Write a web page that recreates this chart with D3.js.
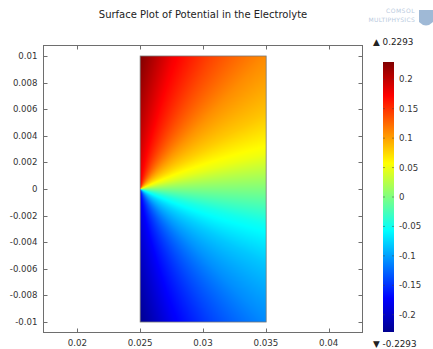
<!DOCTYPE html>
<html>
<head>
<meta charset="utf-8">
<script src="https://cdn.jsdelivr.net/npm/d3@7/dist/d3.min.js"></script>
<style>
  body { margin: 0; background: #ffffff; }
  svg { display: block; font-family: "DejaVu Sans", sans-serif; }
</style>
</head>
<body>
<div id="chart"></div>
<script>
// ---- data ----
const xTicks = [0.02, 0.025, 0.03, 0.035, 0.04];
const yTicks = [0.01, 0.008, 0.006, 0.004, 0.002, 0, -0.002, -0.004, -0.006, -0.008, -0.01];
const cbTicks = [0.2, 0.15, 0.1, 0.05, 0, -0.05, -0.1, -0.15, -0.2];
const vMin = -0.2293, vMax = 0.2293;

// potential sampled around the corner point (0.025, 0): angle (deg) x radius (m)
const angles = [-90, -75, -60, -45, -30, -15, 0, 15, 30, 45, 60, 75, 90];
const radii = [0, 0.005, 0.01, 0.015];
const potential = [
  [-0.178, -0.205, -0.229, -0.235],
  [-0.158, -0.168, -0.175, -0.178],
  [-0.130, -0.136, -0.140, -0.142],
  [-0.100, -0.105, -0.108, -0.110],
  [-0.072, -0.078, -0.083, -0.086],
  [-0.040, -0.046, -0.051, -0.053],
  [0, 0, 0, 0],
  [0.040, 0.046, 0.051, 0.053],
  [0.072, 0.078, 0.083, 0.086],
  [0.100, 0.105, 0.108, 0.110],
  [0.130, 0.136, 0.140, 0.142],
  [0.158, 0.168, 0.175, 0.178],
  [0.178, 0.205, 0.229, 0.235],
];
const domainX = [0.025, 0.035], domainY = [-0.01, 0.01];

// ---- layout ----
const W = 433, H = 349;
const frame = { left: 43.5, right: 362.5, top: 45.5, bottom: 332.5 };
const cb = { x: 383, y: 62, w: 11, h: 270 };
const tickLen = 4;
const axisColor = "#6e6e6e";
const textColor = "#333333";

// jet-like colour table
const jetStops = [0, 0.125, 0.375, 0.625, 0.875, 1];
const jetColors = ["#00008f", "#0000ff", "#00ffff", "#ffff00", "#ff0000", "#800000"];

const x = d3.scaleLinear().domain([0.01731, 0.04269]).range([frame.left, frame.right]);
const y = d3.scaleLinear().domain([-0.01079, 0.01079]).range([frame.bottom, frame.top]);
const color = d3.scaleLinear()
  .domain(jetStops.map(t => vMin + t * (vMax - vMin)))
  .range(jetColors)
  .clamp(true);

const svg = d3.select("#chart").append("svg").attr("width", W).attr("height", H);

// title
svg.append("text")
  .attr("x", (frame.left + frame.right) / 2).attr("y", 18)
  .attr("text-anchor", "middle")
  .attr("font-size", 10).attr("fill", "#222")
  .text("Surface Plot of Potential in the Electrolyte");

// faint logo
const logo = svg.append("g").attr("fill", "#b9cade");
logo.append("text").attr("x", 415).attr("y", 13).attr("text-anchor", "end")
  .attr("font-size", 6).attr("letter-spacing", 0.5).text("COMSOL");
logo.append("text").attr("x", 415).attr("y", 22).attr("text-anchor", "end")
  .attr("font-size", 6).attr("letter-spacing", 0.3).text("MULTIPHYSICS");
logo.append("path")
  .attr("d", "M419,10 L433,10 L433,22 Q426,29 419,22 Z")
  .attr("fill", "#9fb9d6");

// ---- surface image ----
function drawSurface() {
  const px0 = x(domainX[0]), px1 = x(domainX[1]);
  const py0 = y(domainY[1]), py1 = y(domainY[0]);
  const cw = Math.round(px1 - px0), ch = Math.round(py1 - py0);

  // one angle scale per radius column
  const angleScales = radii.map((r, k) =>
    d3.scaleLinear().domain(angles).range(potential.map(row => row[k])).clamp(true));

  const canvas = document.createElement("canvas");
  canvas.width = cw; canvas.height = ch;
  const ctx = canvas.getContext("2d");
  const img = ctx.createImageData(cw, ch);

  for (let j = 0; j < ch; j++) {
    for (let i = 0; i < cw; i++) {
      const dx = x.invert(px0 + i + 0.5) - domainX[0];
      const dy = y.invert(py0 + j + 0.5);
      const r = Math.sqrt(dx * dx + dy * dy);
      const a = Math.atan2(dy, Math.max(dx, 0)) * 180 / Math.PI;
      const vals = angleScales.map(s => s(a));
      const v = d3.scaleLinear().domain(radii).range(vals).clamp(true)(r);
      const c = d3.rgb(color(v));
      const idx = (j * cw + i) * 4;
      img.data[idx] = c.r; img.data[idx + 1] = c.g; img.data[idx + 2] = c.b; img.data[idx + 3] = 255;
    }
  }
  ctx.putImageData(img, 0, 0);

  svg.append("image")
    .attr("x", px0).attr("y", py0)
    .attr("width", cw).attr("height", ch)
    .attr("preserveAspectRatio", "none")
    .attr("href", canvas.toDataURL());

  svg.append("rect")
    .attr("x", px0).attr("y", py0)
    .attr("width", cw).attr("height", ch)
    .attr("fill", "none").attr("stroke", "#777").attr("stroke-width", 0.8);
}
drawSurface();

// ---- frame and ticks ----
svg.append("rect")
  .attr("x", frame.left).attr("y", frame.top)
  .attr("width", frame.right - frame.left).attr("height", frame.bottom - frame.top)
  .attr("fill", "none").attr("stroke", axisColor).attr("stroke-width", 1);

const ticksG = svg.append("g").attr("stroke", axisColor).attr("stroke-width", 1);
xTicks.forEach(t => {
  const px = Math.round(x(t)) + 0.5;
  ticksG.append("line").attr("x1", px).attr("x2", px).attr("y1", frame.bottom).attr("y2", frame.bottom - tickLen);
  ticksG.append("line").attr("x1", px).attr("x2", px).attr("y1", frame.top).attr("y2", frame.top + tickLen);
});
yTicks.forEach(t => {
  const py = Math.round(y(t)) + 0.5;
  ticksG.append("line").attr("x1", frame.left).attr("x2", frame.left + tickLen).attr("y1", py).attr("y2", py);
  ticksG.append("line").attr("x1", frame.right).attr("x2", frame.right - tickLen).attr("y1", py).attr("y2", py);
});

svg.append("g").selectAll("text")
  .data(xTicks).join("text")
  .attr("x", d => x(d)).attr("y", 346)
  .attr("text-anchor", "middle").attr("font-size", 8.7).attr("fill", textColor)
  .text(d => String(d));

svg.append("g").selectAll("text")
  .data(yTicks).join("text")
  .attr("x", 37.5).attr("y", d => y(d) + 3)
  .attr("text-anchor", "end").attr("font-size", 8.6).attr("fill", textColor)
  .text(d => String(d));

// ---- colour bar ----
const cbScale = d3.scaleLinear().domain([vMin, vMax]).range([cb.y + cb.h, cb.y]);
const grad = svg.append("defs").append("linearGradient")
  .attr("id", "jet").attr("x1", 0).attr("y1", 1).attr("x2", 0).attr("y2", 0);
grad.selectAll("stop").data(jetStops).join("stop")
  .attr("offset", d => d)
  .attr("stop-color", (d, i) => jetColors[i]);

svg.append("rect")
  .attr("x", cb.x).attr("y", cb.y).attr("width", cb.w).attr("height", cb.h)
  .attr("fill", "url(#jet)");

const cbTickG = svg.append("g").attr("stroke", "#444").attr("stroke-width", 0.8).attr("opacity", 0.6);
cbTicks.forEach(t => {
  const py = cbScale(t);
  cbTickG.append("line").attr("x1", cb.x).attr("x2", cb.x + 2).attr("y1", py).attr("y2", py);
  cbTickG.append("line").attr("x1", cb.x + cb.w).attr("x2", cb.x + cb.w - 2).attr("y1", py).attr("y2", py);
});

svg.append("g").selectAll("text")
  .data(cbTicks).join("text")
  .attr("x", 399).attr("y", d => cbScale(d) + 3)
  .attr("font-size", 8.6).attr("fill", textColor)
  .text(d => String(d));

svg.append("text").attr("x", 373).attr("y", 45)
  .attr("font-size", 8.8).attr("fill", "#222")
  .text("\u25B2 " + vMax);
svg.append("text").attr("x", 373).attr("y", 347)
  .attr("font-size", 8.8).attr("fill", "#222")
  .text("\u25BC " + vMin);
</script>
</body>
</html>
